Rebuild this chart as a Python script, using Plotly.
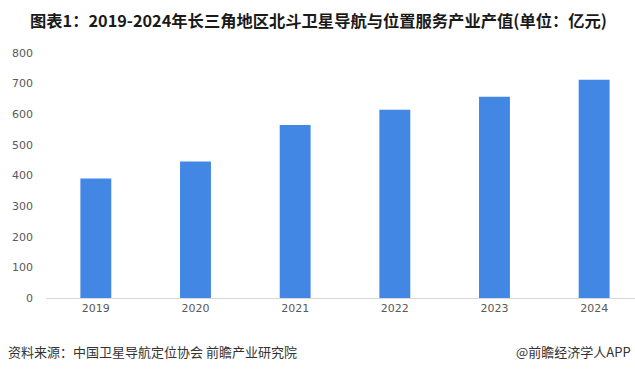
import plotly.graph_objects as go

years = ["2019", "2020", "2021", "2022", "2023", "2024"]
values = [390, 446, 565, 615, 657, 713]
y_ticks = [0, 100, 200, 300, 400, 500, 600, 700, 800]

W, H = 635, 371
L, T, B = 46, 53, 73

fig = go.Figure()
fig.add_trace(go.Bar(
    x=list(range(len(years))), y=values,
    width=0.31, marker=dict(color="#4287E3", line=dict(width=0)),
    hoverinfo="skip",
))

fig.update_layout(
    width=W, height=H,
    margin=dict(l=L, r=0, t=T, b=B),
    paper_bgcolor="white", plot_bgcolor="white",
    showlegend=False,
    font=dict(family="Noto Sans CJK SC, Noto Sans, sans-serif", color="#595959", size=11),
    xaxis=dict(
        range=[-0.5, 5.41], tickmode="array",
        tickvals=list(range(len(years))), ticktext=years,
        showgrid=False, zeroline=False,
        showline=True, linecolor="#d9d9d9", linewidth=1,
        ticks="", ticklen=0,
        tickfont=dict(size=11, color="#595959", family="DejaVu Sans, sans-serif"),
    ),
    yaxis=dict(
        range=[0, 800], tickmode="array", tickvals=y_ticks,
        showgrid=False, zeroline=False, showline=False,
        ticks="", ticklabelstandoff=12,
        tickfont=dict(size=11, color="#595959", family="DejaVu Sans, sans-serif"),
    ),
    annotations=[
        dict(text="<b>图表1：2019-2024年长三角地区北斗卫星导航与位置服务产业产值(单位：亿元)</b>",
             x=318, y=H - 20, showarrow=False, xanchor="center",
             font=dict(size=16.3, color="#1a1a1a", family="Noto Sans CJK SC")),
        dict(text="资料来源：中国卫星导航定位协会 前瞻产业研究院",
             x=6, y=H - 351, showarrow=False, xanchor="left",
             font=dict(size=13, color="#333333", family="Noto Sans CJK SC")),
        dict(text="@前瞻经济学人APP",
             x=633, y=H - 351, showarrow=False, xanchor="right",
             font=dict(size=13, color="#333333", family="Noto Sans CJK SC")),
    ],
)

# convert pixel coordinates for annotations to paper coordinates
for a in fig.layout.annotations:
    a.x = (a.x - L) / (W - L)
    a.y = (a.y - B) / (H - T - B)
    a.xref = "paper"
    a.yref = "paper"
    a.yanchor = "middle"

fig.write_html("out.html", config={"displayModeBar": False},
               post_script="document.body.style.margin='0';document.body.style.overflow='hidden';")
